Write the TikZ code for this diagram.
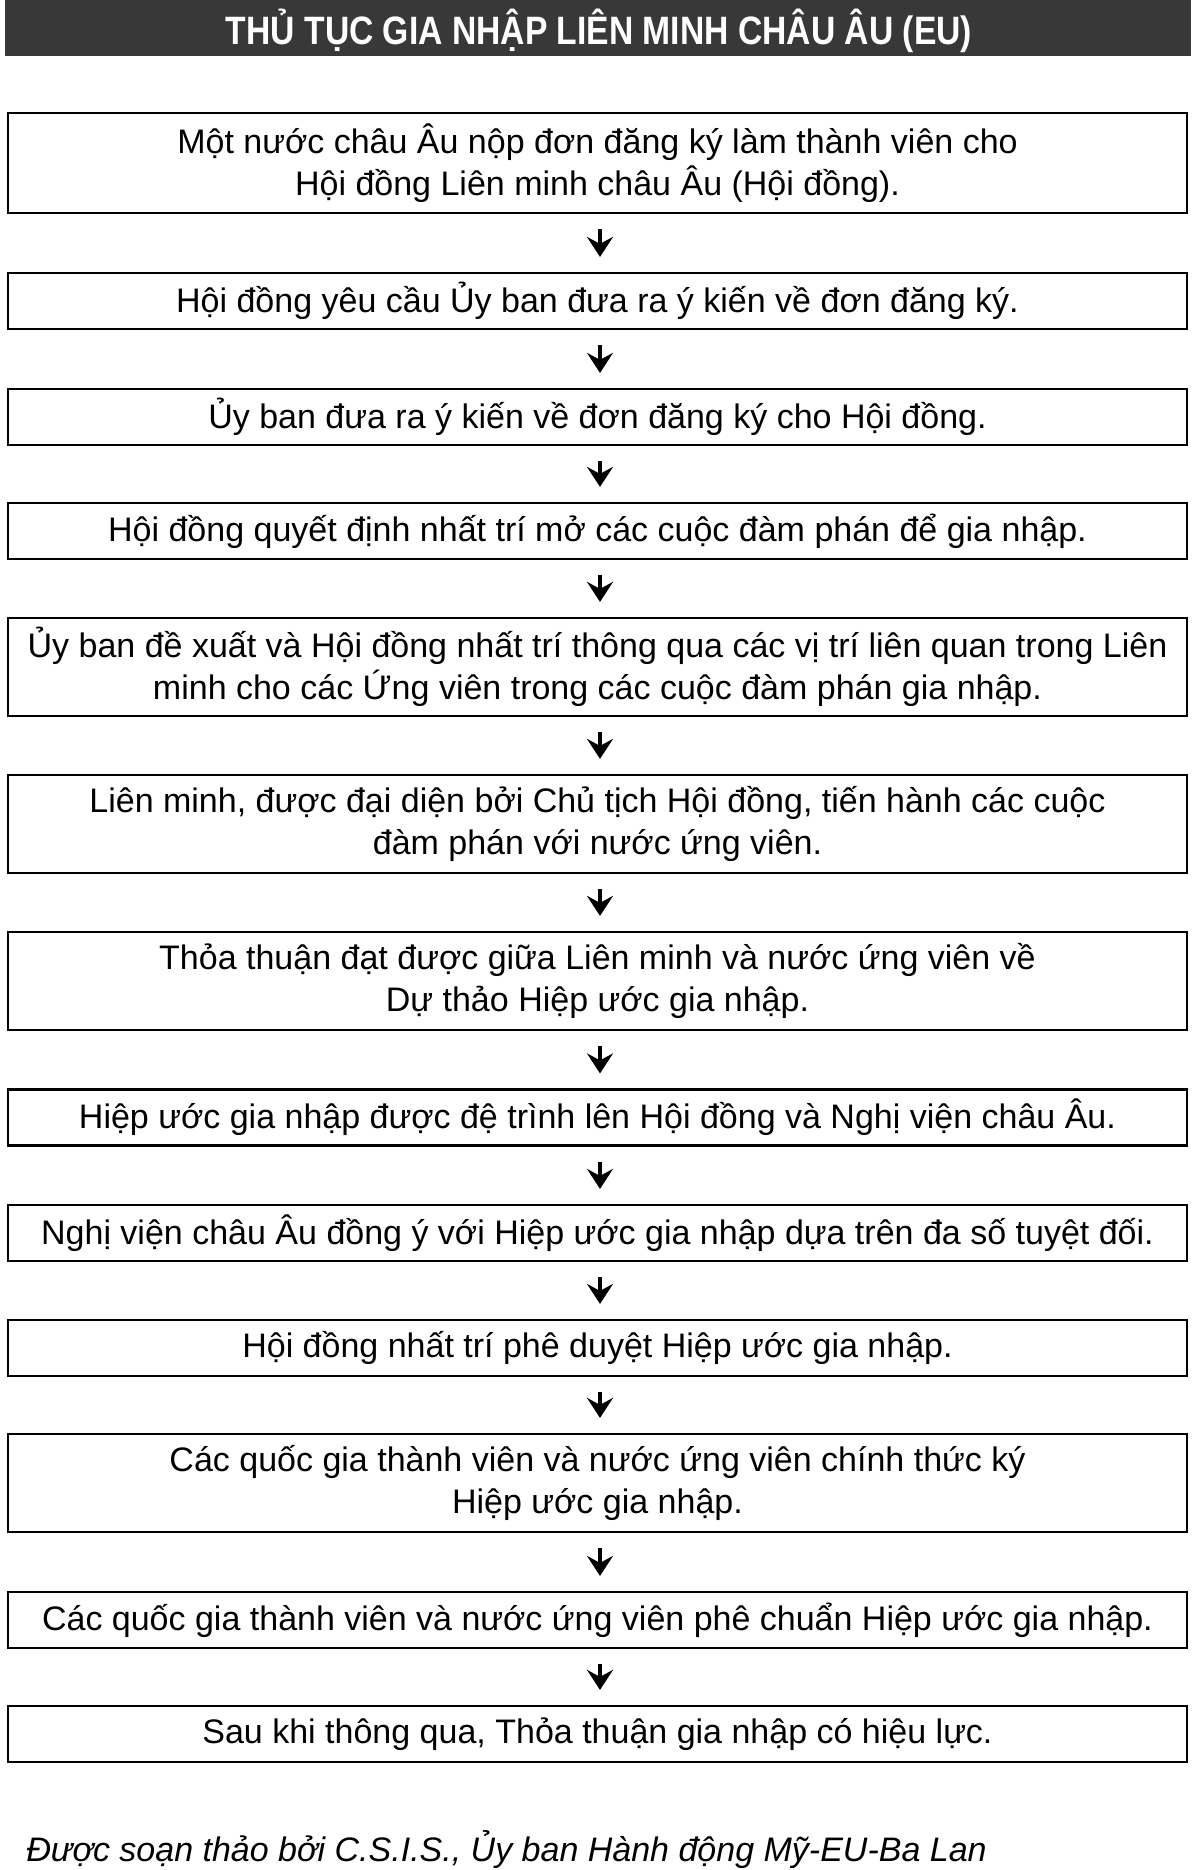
\documentclass[tikz,border=0pt]{standalone}
\usepackage{fontspec}
\setmainfont{Liberation Sans}
\newfontfamily\hdrfont[FakeStretch=0.85]{Liberation Sans}
\usetikzlibrary{arrows.meta}
\tikzset{
  stepbox/.style={draw=black, line width=1.1pt, minimum width=589.5pt, align=center,
    inner sep=0pt, font=\fontsize{17pt}{21pt}\selectfont, text=black},
  onebox/.style={stepbox, minimum height=28pt},
  twobox/.style={stepbox, minimum height=49pt},
  flowarrow/.style={line width=2.4pt, -{Stealth[length=10pt,width=13pt,inset=3.5pt]},
    shorten <=7.5pt, shorten >=7.5pt},
}
\begin{document}
\begin{tikzpicture}[x=0.5pt,y=-0.5pt]
\useasboundingbox (0,0) rectangle (1191,1870);
% header
\fill[black!78] (5,0) rectangle (1191,56);
\node[text=white, font=\hdrfont\bfseries\fontsize{19.8pt}{21pt}\selectfont] (title) at (599,31)
  {THỦ TỤC GIA NHẬP LIÊN MINH CHÂU ÂU (EU)};
% boxes
\node[stepbox, minimum height=50pt] (b1) at (597.5,163)
  {Một nước châu Âu nộp đơn đăng ký làm thành viên cho\\Hội đồng Liên minh châu Âu (Hội đồng).};
\node[onebox] (b2) at (597.5,301) {Hội đồng yêu cầu Ủy ban đưa ra ý kiến về đơn đăng ký.};
\node[onebox] (b3) at (597.5,417) {Ủy ban đưa ra ý kiến về đơn đăng ký cho Hội đồng.};
\node[onebox] (b4) at (597.5,531) {Hội đồng quyết định nhất trí mở các cuộc đàm phán để gia nhập.};
\node[twobox] (b5) at (597.5,667)
  {Ủy ban đề xuất và Hội đồng nhất trí thông qua các vị trí liên quan trong Liên\\minh cho các Ứng viên trong các cuộc đàm phán gia nhập.};
\node[twobox] (b6) at (597.5,824)
  {Liên minh, được đại diện bởi Chủ tịch Hội đồng, tiến hành các cuộc\\đàm phán với nước ứng viên.};
\node[twobox] (b7) at (597.5,981)
  {Thỏa thuận đạt được giữa Liên minh và nước ứng viên về\\Dự thảo Hiệp ước gia nhập.};
\node[onebox] (b8) at (597.5,1117.5) {Hiệp ước gia nhập được đệ trình lên Hội đồng và Nghị viện châu Âu.};
\node[onebox] (b9) at (597.5,1233) {Nghị viện châu Âu đồng ý với Hiệp ước gia nhập dựa trên đa số tuyệt đối.};
\node[onebox] (b10) at (597.5,1348) {Hội đồng nhất trí phê duyệt Hiệp ước gia nhập.};
\node[twobox] (b11) at (597.5,1483)
  {Các quốc gia thành viên và nước ứng viên chính thức ký\\Hiệp ước gia nhập.};
\node[onebox] (b12) at (597.5,1620) {Các quốc gia thành viên và nước ứng viên phê chuẩn Hiệp ước gia nhập.};
\node[onebox] (b13) at (597.5,1734) {Sau khi thông qua, Thỏa thuận gia nhập có hiệu lực.};
% arrows
\foreach \a/\b in {b1/b2,b2/b3,b3/b4,b4/b5,b5/b6,b6/b7,b7/b8,b8/b9,b9/b10,b10/b11,b11/b12,b12/b13}
  \draw[flowarrow] ([xshift=1.25pt]\a.south) -- ([xshift=1.25pt]\b.north);
% footer
\node[anchor=west, inner sep=0pt, font=\itshape\fontsize{17pt}{20pt}\selectfont] (foot) at (26,1850)
  {Được soạn thảo bởi C.S.I.S., Ủy ban Hành động Mỹ-EU-Ba Lan};
\end{tikzpicture}
\end{document}
